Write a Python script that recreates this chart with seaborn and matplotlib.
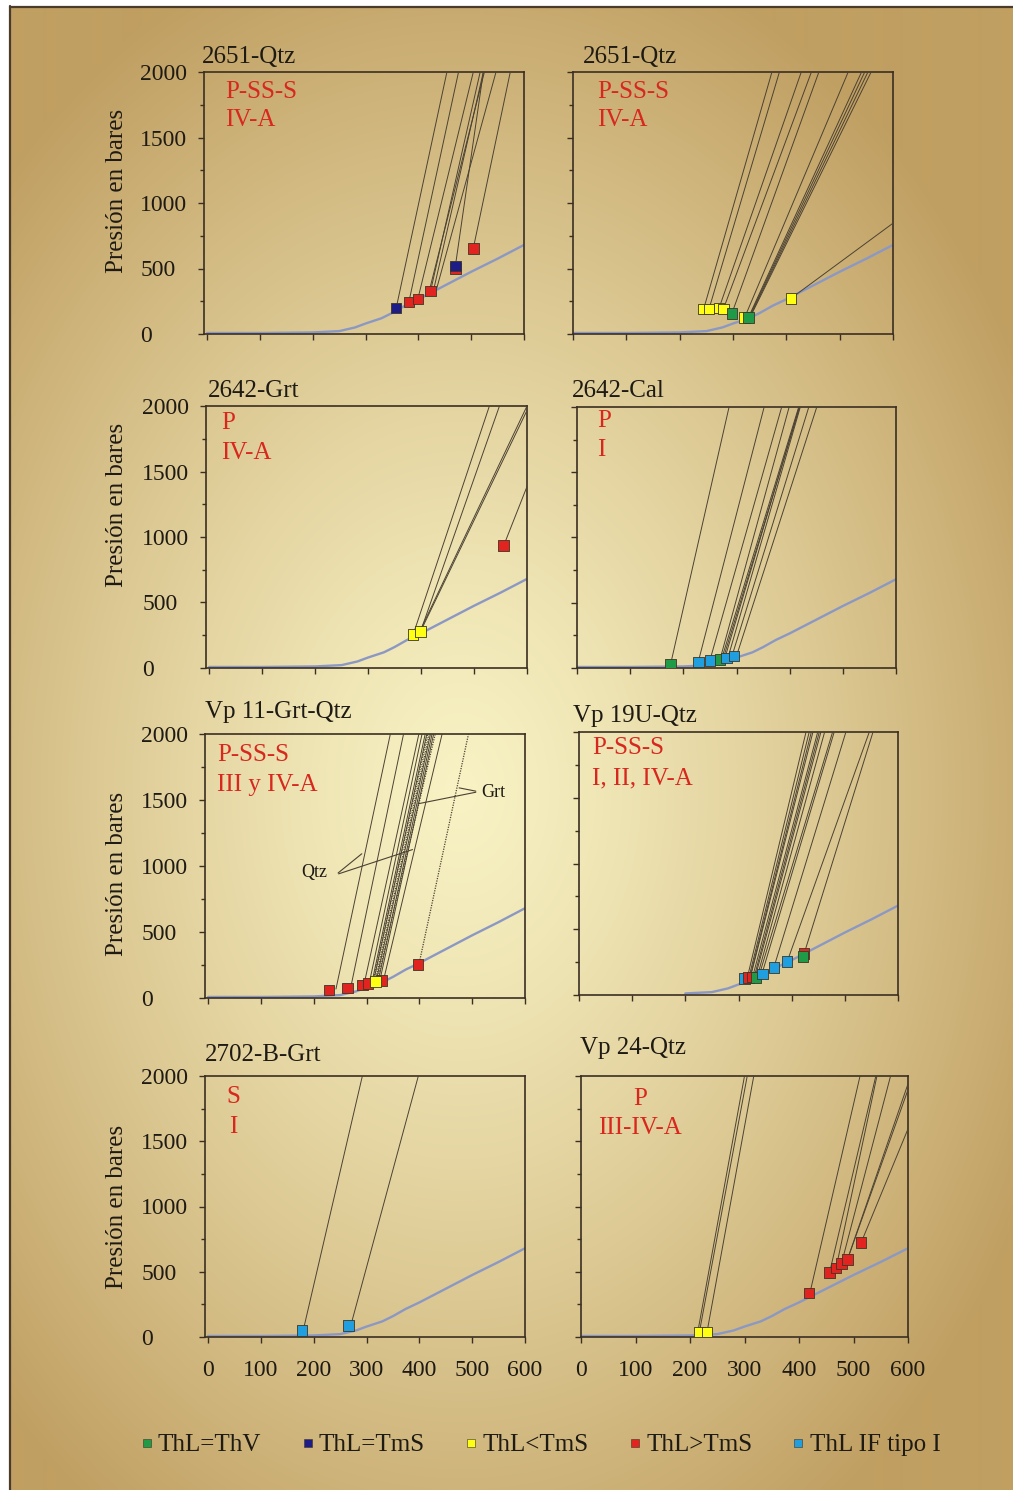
import numpy as np
import matplotlib
matplotlib.use("Agg")
import matplotlib.pyplot as plt
from matplotlib.lines import Line2D
import seaborn as sns

# ---------------------------------------------------------------- data
categories = ["ThL=ThV", "ThL=TmS", "ThL<TmS", "ThL>TmS", "ThL IF tipo I"]
cat_colors = ["#1f9b47", "#1e1c86", "#ffff14", "#e1241f", "#209fe0"]

# liquid-vapour curve of water (T in °C, P in bar)
curve_t = [0, 100, 200, 250, 280, 300, 330, 350, 374, 400, 450, 500, 550, 600]
curve_p = [8, 8, 12, 22, 50, 80, 120, 160, 215, 265, 370, 475, 575, 680]

panel_titles = ["2651-Qtz", "2651-Qtz", "2642-Grt", "2642-Cal",
                "Vp 11-Grt-Qtz", "Vp 19U-Qtz", "2702-B-Grt", "Vp 24-Qtz"]
panel_tags = [("P-SS-S", "IV-A"), ("P-SS-S", "IV-A"), ("P", "IV-A"), ("P", "I"),
              ("P-SS-S", "III y IV-A"), ("P-SS-S", "I, II, IV-A"), ("S", "I"),
              ("P", "III-IV-A")]

# homogenisation points (square markers)
q2651a_th = [358, 382, 399, 423, 470, 470, 504]
q2651a_ph = [199, 245, 268, 327, 498, 518, 654]
q2651a_cat = ["ThL=TmS", "ThL>TmS", "ThL>TmS", "ThL>TmS", "ThL>TmS", "ThL=TmS", "ThL>TmS"]

q2651b_th = [245, 255, 274, 282, 298, 322, 329, 409]
q2651b_ph = [191, 191, 199, 191, 158, 127, 127, 273]
q2651b_cat = ["ThL<TmS", "ThL<TmS", "ThL<TmS", "ThL<TmS", "ThL=ThV", "ThL<TmS", "ThL=ThV", "ThL<TmS"]

g2642_th = [385, 399, 556]
g2642_ph = [254, 279, 934]
g2642_cat = ["ThL<TmS", "ThL<TmS", "ThL>TmS"]

c2642_th = [176, 228, 250, 269, 281, 295]
c2642_ph = [28, 46, 59, 66, 77, 92]
c2642_cat = ["ThL=ThV", "ThL IF tipo I", "ThL IF tipo I", "ThL=ThV", "ThL IF tipo I", "ThL IF tipo I"]

vp11_th = [229, 264, 292, 303, 328, 397, 317]
vp11_ph = [61, 76, 98, 111, 131, 252, 126]
vp11_cat = ["ThL>TmS"] * 6 + ["ThL<TmS"]

vp19_th = [311, 319, 326, 333, 345, 367, 391, 423, 421]
vp19_ph = [127, 135, 137, 132, 160, 211, 254, 317, 292]
vp19_cat = ["ThL IF tipo I", "ThL>TmS", "ThL>TmS", "ThL=ThV", "ThL IF tipo I",
            "ThL IF tipo I", "ThL IF tipo I", "ThL>TmS", "ThL=ThV"]

b2702_th = [178, 266]
b2702_ph = [51, 87]
b2702_cat = ["ThL IF tipo I", "ThL IF tipo I"]

vp24_th = [217, 231, 418, 456, 468, 478, 489, 514]
vp24_ph = [33, 33, 337, 493, 529, 564, 595, 723]
vp24_cat = ["ThL<TmS", "ThL<TmS"] + ["ThL>TmS"] * 6

# isochores: start (T, P) and the temperature reached at 2000 bar
iso2651a_t0 = [358, 382, 399, 423, 429, 435, 470, 504, 420]
iso2651a_p0 = [199, 245, 268, 327, 340, 352, 518, 654, 320]
iso2651a_t2k = [454, 476, 504, 517, 523, 547, 523, 574, 525]

iso2651b_t0 = [245, 255, 274, 282, 298, 322, 329, 330, 331, 332, 409]
iso2651b_p0 = [191, 191, 199, 191, 158, 127, 127, 127, 127, 127, 273]
iso2651b_t2k = [373, 387, 428, 447, 461, 516, 541, 547, 553, 559, 985]

iso2642g_t0 = [385, 399, 397, 399, 556]
iso2642g_p0 = [254, 279, 275, 279, 934]
iso2642g_t2k = [529, 548, 600, 604, 660]

iso2642c_t0 = [176, 228, 250, 269, 272, 275, 278, 284, 291, 300]
iso2642c_p0 = [28, 46, 59, 66, 70, 72, 74, 80, 85, 92]
iso2642c_t2k = [286, 352, 385, 399, 417, 419, 418, 420, 436, 451]

iso_vp11_t0 = [242, 270, 295, 305, 310, 313, 318, 322, 325, 332]
iso_vp11_p0 = [68, 80, 100, 112, 116, 120, 126, 128, 130, 134]
iso_vp11_t2k = [345, 370, 399, 405, 411, 414, 421, 424, 427, 443]
iso_vp11grt_t0 = [399, 312, 316, 320]          # garnet inclusions (dotted)
iso_vp11grt_p0 = [252, 118, 122, 126]
iso_vp11grt_t2k = [493, 416, 419, 430]

iso_vp19_t0 = [317, 320, 322, 323, 327, 330, 332, 336, 339, 344, 367, 392, 424]
iso_vp19_p0 = [140, 140, 142, 145, 145, 145, 145, 150, 152, 160, 216, 259, 322]
iso_vp19_t2k = [427, 433, 437, 440, 449, 452, 455, 462, 477, 480, 502, 546, 553]

iso2702_t0 = [180, 270]
iso2702_p0 = [51, 87]
iso2702_t2k = [292, 398]

iso_vp24_t0 = [214, 217, 231, 420, 456, 468, 478, 489, 489, 514]
iso_vp24_p0 = [33, 33, 33, 337, 493, 529, 564, 595, 595, 723]
iso_vp24_t2k = [300, 305, 317, 512, 541, 543, 568, 605, 609, 640]

y_ticks = [0, 500, 1000, 1500, 2000]
x_ticks = [0, 100, 200, 300, 400, 500, 600]

# ---------------------------------------------------------------- style
sns.set_style("ticks")
plt.rcParams["font.family"] = ["Liberation Serif", "DejaVu Serif"]
palette = dict(zip(categories, cat_colors))
INK = "#3a2f22"
CURVE = "#8c98c4"
ISO = "#4b4233"
TAG = "#d8281e"

W, H = 1013, 1490
fig = plt.figure(figsize=(W / 100, H / 100), dpi=100)

# golden radial backdrop with a thin frame
bg = fig.add_axes([0, 0, 1, 1], zorder=-10)
yy, xx = np.mgrid[0:H, 0:W]
r = np.sqrt(((xx - 460) / 640.0) ** 2 + ((yy - 790) / 880.0) ** 2)
t = np.clip(r, 0, 1) ** 1.25
c0 = np.array([248, 242, 196]) / 255.0
c1 = np.array([192, 159, 98]) / 255.0
img = c0[None, None, :] * (1 - t[..., None]) + c1[None, None, :] * t[..., None]
img[:6, :, :] = 1.0
img[:, :9, :] = 1.0
bg.imshow(img, extent=[0, 1, 0, 1], aspect="auto", interpolation="bilinear")
bg.set_xlim(0, 1)
bg.set_ylim(0, 1)
bg.axis("off")
fig.add_artist(Line2D([9.5 / W, 9.5 / W], [0, 1 - 6 / H], transform=fig.transFigure,
                      color="#4a3b2a", lw=1.6))
fig.add_artist(Line2D([9.5 / W, 1], [1 - 6.5 / H, 1 - 6.5 / H], transform=fig.transFigure,
                      color="#4a3b2a", lw=1.6))


def px_axes(x0, x1, y0, y1):
    ax = fig.add_axes([x0 / W, 1 - y1 / H, (x1 - x0) / W, (y1 - y0) / H])
    ax.set_facecolor("none")
    return ax


boxes = [(204, 524, 72, 334), (573, 893, 72, 334),
         (206, 527, 406, 668), (577, 896, 407, 668),
         (205, 525, 734, 998), (579, 898, 732, 995),
         (205, 525, 1076, 1337), (581, 908, 1076, 1337)]

squares = [(q2651a_th, q2651a_ph, q2651a_cat), (q2651b_th, q2651b_ph, q2651b_cat),
           (g2642_th, g2642_ph, g2642_cat), (c2642_th, c2642_ph, c2642_cat),
           (vp11_th, vp11_ph, vp11_cat), (vp19_th, vp19_ph, vp19_cat),
           (b2702_th, b2702_ph, b2702_cat), (vp24_th, vp24_ph, vp24_cat)]

isochores = [(iso2651a_t0, iso2651a_p0, iso2651a_t2k), (iso2651b_t0, iso2651b_p0, iso2651b_t2k),
             (iso2642g_t0, iso2642g_p0, iso2642g_t2k), (iso2642c_t0, iso2642c_p0, iso2642c_t2k),
             (iso_vp11_t0, iso_vp11_p0, iso_vp11_t2k), (iso_vp19_t0, iso_vp19_p0, iso_vp19_t2k),
             (iso2702_t0, iso2702_p0, iso2702_t2k), (iso_vp24_t0, iso_vp24_p0, iso_vp24_t2k)]

title_px = [(202, 57), (583, 57), (208, 391), (572, 391),
            (205, 712), (573, 716), (205, 1055), (580, 1048)]
tag_px = [(225, 92, 120, "left"), (597, 92, 120, "left"), (221, 423, 453, "left"),
          (597, 421, 450, "left"), (217, 755, 785, "left"), (592, 748, 778, "left"),
          (233, 1097, 1127, "center"), (640, 1099, 1128, "center")]
ylabel_yc = [191, 505, 874, 1207]

axes = []
for i, box in enumerate(boxes):
    ax = px_axes(*box)
    axes.append(ax)
    left_col = i % 2 == 0
    bottom_row = i >= 6

    # liquid-vapour curve
    if i == 5:
        ct = [tv for tv in curve_t if tv >= 200]
        cp = curve_p[len(curve_t) - len(ct):]
    else:
        ct, cp = curve_t, curve_p
    sns.lineplot(x=ct, y=cp, ax=ax, color=CURVE, lw=1.7, sort=False,
                 estimator=None, zorder=2)

    # isochores
    for t0, p0, t2k in zip(*isochores[i]):
        ax.plot([t0, t2k], [p0, 2000], color=ISO, lw=0.7, zorder=3)
    if i == 4:
        for t0, p0, t2k in zip(iso_vp11grt_t0, iso_vp11grt_p0, iso_vp11grt_t2k):
            ax.plot([t0, t2k], [p0, 2000], color=ISO, lw=0.9, ls=(0, (1, 1)), zorder=3)

    # homogenisation squares
    th, ph, cat = squares[i]
    sns.scatterplot(x=th, y=ph, hue=cat, palette=palette, marker="s", s=58,
                    edgecolor="#3b3526", linewidth=0.6, legend=False, ax=ax, zorder=5)

    ax.set_xlim(-6 if left_col else 0, 600)
    ax.set_ylim(0, 2000)
    ax.set_xlabel("")
    ax.set_ylabel("")
    for sp in ax.spines.values():
        sp.set_visible(True)
        sp.set_color(INK)
        sp.set_linewidth(1.2)

    ax.set_xticks(x_ticks)
    ax.set_yticks([250, 750, 1250, 1750], minor=True)
    ax.tick_params(which="both", direction="out", color=INK, width=1.0)
    ax.tick_params(which="major", length=4.5)
    ax.tick_params(which="minor", length=3)
    if left_col:
        ax.set_yticks(y_ticks, labels=[str(v) for v in y_ticks], ha="left")
        ax.tick_params(axis="y", which="major", labelsize=17, pad=41.5, labelcolor="#1e1a14")
    else:
        ax.set_yticks(y_ticks, labels=[])
    if bottom_row:
        ax.set_xticklabels([str(v) for v in x_ticks])
        ax.tick_params(axis="x", labelsize=17, pad=12, labelcolor="#1e1a14")
    else:
        ax.set_xticklabels([])

    tx, ty = title_px[i]
    fig.text(tx / W, 1 - ty / H, panel_titles[i], fontsize=18, ha="left", va="center",
             color="#1e1a14")
    gx, gy1, gy2, gha = tag_px[i]
    fig.text(gx / W, 1 - gy1 / H, panel_tags[i][0], fontsize=18, ha=gha, va="center", color=TAG)
    fig.text(gx / W, 1 - gy2 / H, panel_tags[i][1], fontsize=18, ha=gha, va="center", color=TAG)

for yc in ylabel_yc:
    fig.text(117 / W, 1 - yc / H, "Presión en bares", rotation=90, fontsize=18,
             ha="center", va="center", color="#1e1a14")

# mineral callouts in Vp 11
ax5 = axes[4]
for end in [(295, 1106), (392, 1131)]:
    ax5.annotate("", xy=end, xytext=(242, 934),
                 arrowprops=dict(arrowstyle="-", color=ISO, lw=0.8))
ax5.text(201, 947, "Qtz", fontsize=13, ha="center", va="center", color="#1e1a14")
for end in [(470, 1596), (392, 1467)]:
    ax5.annotate("", xy=end, xytext=(512, 1563),
                 arrowprops=dict(arrowstyle="-", color=ISO, lw=0.8))
ax5.text(540, 1558, "Grt", fontsize=13, ha="center", va="center", color="#1e1a14")

# legend
handles = [Line2D([], [], marker="s", ls="", markersize=5.5, color=c,
                  markeredgecolor="#3b3526", markeredgewidth=0.4) for c in cat_colors]
fig.legend(handles, categories, loc="center", bbox_to_anchor=(541 / W, 1 - 1445 / H),
           ncol=5, frameon=False, fontsize=18, handlelength=0.4, handletextpad=0.25,
           columnspacing=1.65, labelcolor="#1e1a14")

fig.savefig("out.png", dpi=100)
